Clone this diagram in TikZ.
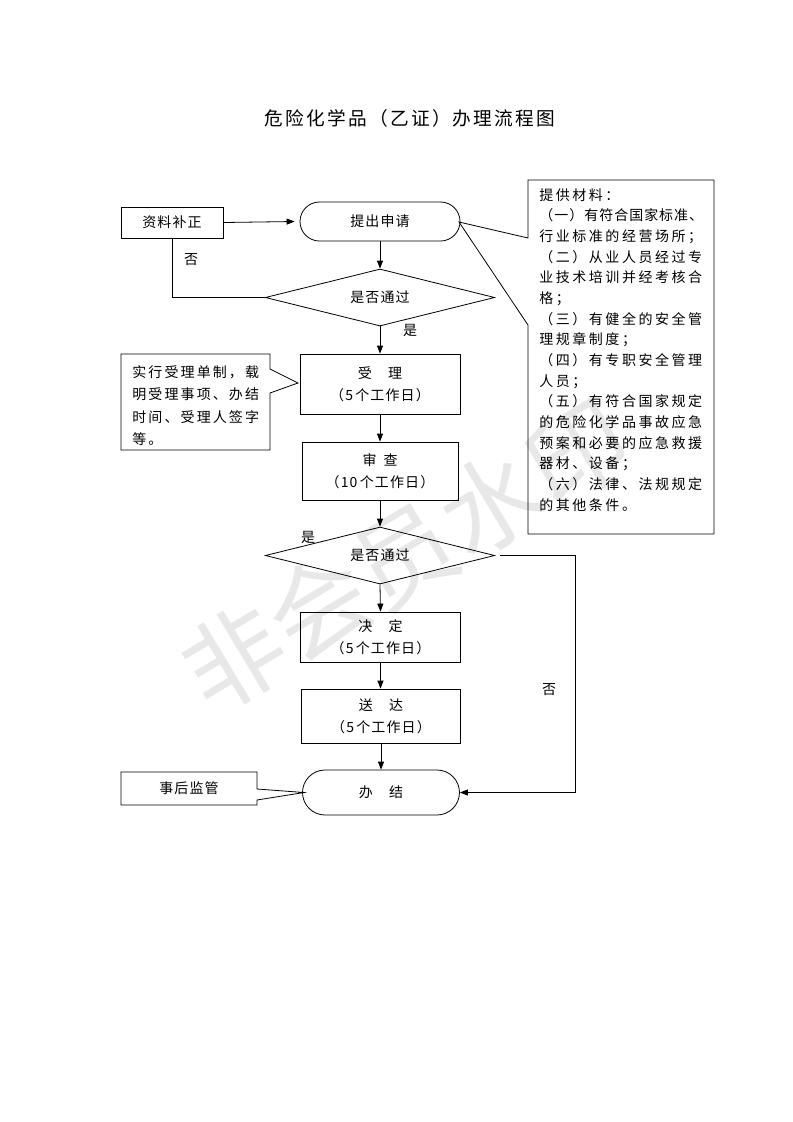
\documentclass[tikz,border=0pt]{standalone}
\usepackage{fontspec}
\setmainfont{Noto Sans CJK SC}
\usetikzlibrary{shapes.geometric,arrows.meta,calc}
\begin{document}
\begin{tikzpicture}[x=0.75pt,y=-0.75pt,
  line width=0.6pt,
  every node/.style={font=\fontsize{10.5}{16.5}\selectfont\addfontfeatures{LetterSpace=8}},
  box/.style={draw, rectangle, inner sep=0pt, align=center},
  term/.style={draw, rectangle, inner sep=0pt, align=center},
  dec/.style={draw, diamond, aspect=4, inner sep=0pt, minimum width=172pt, minimum height=42.75pt},
  arr/.style={-{Triangle[length=6pt,width=4.5pt]}},
  lab/.style={inner sep=0pt},
  wmark/.style={inner sep=0pt, text=black!9, rotate=31, font=\fontsize{75}{75}\selectfont},
]
\useasboundingbox (0,0) rectangle (793,1122);

% watermark
\node[wmark] (wm) at (405,555) {非会员水印};

% title
\node[lab, font=\fontsize{14}{16}\selectfont\addfontfeatures{LetterSpace=12}] (title) at (410,118) {危险化学品（乙证）办理流程图};

% main nodes
\node[box, minimum width=76.5pt, minimum height=23.25pt] (zl) at (172,222.5) {资料补正};
\node[term, rounded corners=14.6pt, minimum width=120pt, minimum height=29.25pt] (sq) at (380,221.5) {提出申请};
\node[dec] (d1) at (380,297.5) {是否通过};
\node[box, minimum width=120pt, minimum height=45pt] (sl) at (380,384) {受　理\\（5\,个工作日）};
\node[box, minimum width=117pt, minimum height=43.5pt] (sc) at (380,471) {审\enspace 查\\（10\,个工作日）};
\node[dec] (d2) at (380,555.5) {是否通过};
\node[box, minimum width=120pt, minimum height=37.5pt] (jd) at (380.5,637) {决　定\\（5\,个工作日）};
\node[box, minimum width=119.25pt, minimum height=40.5pt] (sd) at (381,716) {送　达\\（5\,个工作日）};
\node[term, rounded corners=16.9pt, minimum width=117.75pt, minimum height=33.75pt] (bj) at (381,792.5) {办　结};

% callout: 事后监管
\draw (121,772) -- (257,772) -- (257,789) -- (304,792.5) -- (257,800) -- (257,805) -- (121,805) -- cycle;
\node[lab] (hg) at (189,788.5) {事后监管};

% callout: left note
\draw (121,354) -- (270,354) -- (270,369) -- (298,383) -- (270,393) -- (270,450) -- (121,450) -- cycle;
\node[lab, anchor=north west, align=left,
  font=\fontsize{10.5}{16.9}\selectfont\addfontfeatures{LetterSpace=15}] (note1) at (132,365)
  {实行受理单制，载\\明受理事项、办结\\时间、受理人签字\\等。};

% callout: right materials
\draw (528,180) -- (714,180) -- (714,534) -- (528,534) -- (528,325) -- (459,222) -- (528,238) -- cycle;
\node[lab, anchor=north west, align=left,
  font=\fontsize{10.5}{15.5}\selectfont\addfontfeatures{LetterSpace=18}] (note2) at (539,188)
  {提供材料：\\
   {\addfontfeatures{LetterSpace=7}（一）有符合国家标准、}\\
   行业标准的经营场所；\\
   （二）从业人员经过专\\
   业技术培训并经考核合\\
   格；\\
   （三）有健全的安全管\\
   理规章制度；\\
   （四）有专职安全管理\\
   人员；\\
   （五）有符合国家规定\\
   的危险化学品事故应急\\
   预案和必要的应急救援\\
   器材、设备；\\
   （六）法律、法规规定\\
   的其他条件。};

% labels
\node[lab] (n1) at (191,260) {否};
\node[lab] (y1) at (410,330) {是};
\node[lab] (y2) at (308,537) {是};
\node[lab] (n2) at (549,690) {否};

% connectors
\draw[arr] (zl.east) -- ([xshift=-3.75pt]sq.west);
\draw (zl.south) |- (d1.west);
\draw[arr] (sq.south) -- (d1.north);
\draw[arr] (d1.south) -- (sl.north);
\draw[arr] (sl.south) -- (sc.north);
\draw[arr] (sc.south) -- (d2.north);
\draw[arr] (d2.south) -- (jd.north);
\draw[arr] (jd.south) -- (jd.south |- sd.north);
\draw[arr] (sd.south) -- (bj.north);
\coordinate (c1) at (575,555.5);
\draw[arr] ([xshift=3.75pt]d2.east) -- (c1) |- (bj.east);
\end{tikzpicture}
\end{document}
